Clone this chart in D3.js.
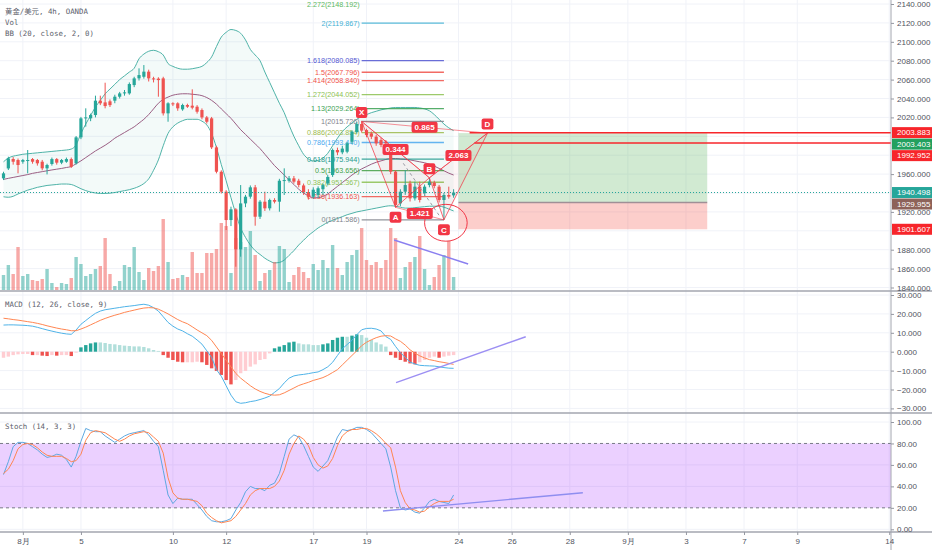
<!DOCTYPE html>
<html>
<head>
<meta charset="utf-8">
<script src="https://cdn.jsdelivr.net/npm/d3@7"></script>
<style>
body { margin: 0; background: #ffffff; }
text { font-family: "Liberation Sans", Arial, sans-serif; }
</style>
</head>
<body>
<div id="chart"></div>
<script>
// ---- candles (4h, index 0 = first visible bar) ----
var opens = [1955.5,1966,1976,1974.9,1973.1,1974.5,1975.9,1974.9,1973.1,1966.1,
1970.7,1975.9,1972.1,1973.1,1975.9,1971.4,1998.9,2019.4,2019,2022.5,
2037.7,2035.9,2037,2037.7,2041.9,2045.4,2045.4,2054.2,2061.3,2063,
2068.4,2061.3,2061,2061.3,2024.3,2034.9,2034.9,2028.5,2033.1,2032.4,
2031.3,2027.8,2020,2019,1988.3,1962.5,1941.4,1911.4,1922.7,1880.4,
1929,1936.1,1946,1914.9,1930.8,1923.8,1932.6,1930.8,1953.5,1953,
1955.5,1953,1948,1941,1936,1938,1944,1950,1959,1985.5,
1983,1983.7,1994.3,2004.5,2013,2006.6,2003.1,1999.6,1996,1994.3,
1990,1962.6,1929,1941.4,1950.2,1934.3,1946.7,1939.6,1948.4,1951,
1946.7,1932.6,1937.9,1937.5];
var highs = [1962.5,1978.4,1978,1976.5,1976,1985.5,1977,1976,1975,1971,
1977.5,1977,1976,1977.5,1977.5,2000.3,2020.5,2029.6,2024,2043,
2043,2056.7,2039,2044,2047,2049,2057,2063,2071.9,2075.4,
2070.5,2063,2062.5,2063,2036,2036,2036,2034.5,2034.5,2049.7,
2033,2029.5,2021.5,2020.5,1990,1964,1943,1925.5,1924,1948.4,
1938,1948,1948.5,1932.5,1941.4,1934,1934.5,1955,1966.1,1958,
1958,1955,1950,1944,1946,1947,1950,1959,1987,1988,
1990,1994,2006,2015,2015.726,2008,2005,2001.5,1998,1996,
1992,1964,1944,1964.3,1953,1952,1952,1949,1956.1,1953,
1948.5,1940,1946.7,1944];
var lows = [1953.7,1964.3,1970,1960.8,1971,1960.8,1971,1969,1964,1959.7,
1969,1970,1970.5,1972,1966.5,1970,1997,2010.2,2016,2020,
2033,2029.6,2031,2035,2040,2043,2044,2052,2059,2061,
2058,2057,2041.9,2022,2015.4,2032,2027,2027,2030,2028.5,
2024,2018,2013.5,1986.5,1960.8,1939.5,1900.8,1905,1862,1872.6,
1925,1934,1905.4,1912.5,1921,1921.5,1929,1920.2,1937.9,1951,
1950,1946,1938,1933,1934,1935,1938,1948,1957,1980,
1981,1982,1992,2003,2004,1999,1997,1990,1988.5,1990,
1960,1924.8,1926,1938,1931,1932,1930,1937,1946,1945,
1930,1911.586,1934,1935];
var closes = [1960.8,1976.7,1973.1,1969.6,1974.9,1974.9,1973.1,1971.4,1966.1,1969.6,
1975.9,1972.1,1974.9,1975.9,1967.8,1998.9,2019,2020,2022.5,2037.7,
2034.9,2032,2033,2041.9,2045.4,2046.5,2055.3,2061.3,2064.8,2068.4,
2061.3,2060.2,2059.5,2024.3,2034.9,2033.8,2029.6,2033.1,2031.3,2030.3,
2026,2020,2015.4,1988.3,1962.5,1941.4,1911.4,1922.7,1880.4,1929,
1936.1,1946,1914.9,1930.8,1923.8,1932.6,1930.8,1953,1953.7,1955.5,
1952,1948.5,1940.5,1936,1943.5,1945,1948.4,1957,1985.5,1983,
1987,1992.5,2004.9,2013,2006,2001.3,1999.6,1992.5,1990.8,1992.5,
1962.6,1927.3,1941.4,1948.4,1934.3,1946.7,1932.6,1946.7,1952,1947.4,
1932.6,1937.9,1936.1,1940.498];
var volumes = [15,25,16,43,14,16,10,9,11,21,
7,3,7,6,12,33,26,14,16,21,
24,52,16,4,9,25,23,43,18,10,
22,19,24,71,28,11,12,15,13,38,
17,17,37,37,41,67,64,17,52,48,
43,59,35,9,17,20,28,44,41,8,
15,23,18,12,26,20,30,22,45,22,
15,28,35,40,62,30,25,28,22,30,
62,52,12,23,28,33,54,21,5,13,
25,35,49,13];

// ---- Bollinger bands (20, 2) ----
var bbUpper = [1973,1977,1979,1980,1981,1981.5,1982,1982.5,1983,1983.5,
1984,1984.5,1985,1985.5,1986.5,1991,2003,2013,2022,2031,
2038,2045,2050,2055,2060,2064,2068,2072,2082,2087,
2090,2091,2089.5,2086,2077,2074,2072,2071,2071,2071.5,
2072.5,2074,2078,2084,2095,2105,2110,2113,2112,2109,
2102,2092,2086,2080,2068,2057,2046,2035,2025,2012,
2000,1990,1981,1976,1974,1974.5,1977,1982,1990,1998,
2005,2010,2014,2018,2021,2023,2025,2026.5,2028,2029,
2030,2030.5,2030.5,2030.5,2030.5,2030.5,2030,2029,2027,2023,
2018,2013,2009,2006];
var bbMid = [1954.4,1955.5,1956.5,1957.5,1958.5,1959.5,1960.8,1961.7,1962.6,1963.5,
1964.4,1965.2,1966,1967,1968,1971,1974,1977.5,1981,1984.5,
1987.5,1990.5,1994,1998,2001,2004,2007,2010,2014,2018,
2023,2029,2035,2039,2041.5,2043.5,2044.5,2045,2045,2044.5,
2044,2043,2041,2038,2034,2029,2024,2019,2013,2007,
2002,1997,1992,1987,1981,1975,1969,1964,1959,1954,
1949,1944,1940,1937,1935,1935,1936.5,1939,1943,1947,
1951,1955,1959,1962.5,1965.5,1968,1970.5,1972.5,1974,1975.5,
1976.5,1976.5,1976,1975.5,1975,1974,1973,1972,1970.5,1968.5,
1966,1963.5,1961,1959];
var bbLower = [1936,1935.5,1936.5,1939,1941,1943,1944.5,1946,1947,1948,
1948.5,1949,1949.5,1949.5,1949,1947,1944.5,1942.5,1941,1940,
1939.5,1939.5,1939.8,1940.5,1941.5,1942.5,1943.5,1945,1947,1950,
1955,1964,1975,1990,2003,2010,2014,2016.5,2018,2018,
2018,2016,2012,2003,1988,1970,1953,1935,1918,1903,
1893,1885,1879,1875,1871,1868,1866,1866.5,1869,1874,
1879,1885,1890,1895,1899,1903,1906,1909,1911,1913,
1915,1917,1918.5,1920,1921,1922,1923,1924,1925,1926,
1926.5,1926,1925,1924,1924,1924.5,1925,1925.5,1926,1926,
1926,1925,1923,1921];

// ---- MACD (12, 26, close, 9) ----
var macdLine = [14.1,14.2,14.2,14.1,14.0,13.8,13.5,12.9,12.2,11.5,
10.9,10.3,9.8,9.4,9.2,11.5,14.5,16.5,18.5,20.3,
21.5,22.2,22.6,23.0,23.4,23.8,24.1,24.4,24.8,25.1,
24.6,23.3,21.5,18.5,15.5,13.5,12.0,11.0,9.5,8.2,
6.2,4.0,0.5,-3.0,-9.5,-13.0,-18.0,-23.0,-26.5,-27.3,
-27.0,-26.4,-26.0,-25.3,-24.5,-23.5,-21.5,-19.5,-16.5,-14.0,
-12.8,-12.3,-12.0,-11.6,-11.1,-10.7,-9.5,-8.0,-5.6,-2.0,
1.5,3.8,6.0,9.0,11.6,12.3,12.4,12.0,11.0,8.0,
6.5,2.8,-0.5,-3.0,-5.5,-6.5,-7.2,-7.4,-7.5,-7.6,
-8.0,-8.4,-8.7,-8.8];
var signalLine = [17.7,17.4,17.0,16.7,16.3,15.9,15.5,15.0,14.4,13.7,
13.1,12.5,12.0,11.6,11.1,11.1,12.0,13.0,14.2,15.4,
16.6,17.6,18.5,19.3,20.0,20.8,21.4,22.0,22.6,23.1,
23.3,23.2,22.5,21.3,20.0,18.5,17.0,15.8,14.8,13.2,
11.5,10.0,8.5,6.0,2.5,-1.0,-4.5,-8.0,-11.5,-14.0,
-16.0,-18.0,-19.7,-21.0,-22.0,-22.7,-23.0,-22.8,-21.8,-20.5,
-19.2,-17.9,-17.0,-16.2,-15.2,-14.5,-13.7,-12.5,-11.0,-9.5,
-7.0,-4.5,-2.0,0.5,3.2,5.0,6.3,7.4,8.2,8.5,
8.3,6.8,5.5,3.5,1.0,-0.8,-2.2,-3.3,-4.2,-4.7,
-5.3,-5.7,-6.2,-6.7];
var macdHist = [-3.2,-2.6,-1.8,-1.4,-1.2,-1.2,-1.8,-1.8,-2.1,-2.3,
-1.8,-2.1,-1.8,-1.8,-2.3,-0.5,2.3,3.5,4.4,4.9,
4.9,4.6,4.1,3.9,3.5,3.2,3.0,2.8,2.8,2.5,
1.8,0.9,0.4,-1.8,-3.2,-4.4,-5.3,-5.6,-5.6,-5.6,
-5.3,-5.6,-7.0,-8.8,-10.2,-12.3,-15.0,-17.3,-15.0,-11.4,
-10.2,-7.9,-6.7,-4.4,-3.9,-0.9,1.8,2.7,3.5,4.9,
5.3,4.4,3.9,3.9,3.5,3.5,3.9,4.4,6.2,7.4,
7.9,7.9,8.5,9.2,8.8,7.4,6.2,4.9,3.9,2.7,
-1.8,-3.2,-4.4,-5.3,-6.2,-6.7,-5.6,-4.4,-3.2,-2.6,
-3.2,-2.6,-2.1,-1.8];

// ---- Stoch (14, 3, 3) ----
var stochK = [51,63,77,81,81,80,77,74,70,67,
68,70,69,65,58,68,82,94,92,91,
91,87,84,81,84,87,89,90,91,92,
88,82,77,55,32,24,29,28,28,28,
23,18,12,8,7,7,8,10,18,25,
35,40,38,38,36,41,43,52,68,84,
88,86,78,68,58,54,59,64,75,86,
93,92,93,95,95,93,90,85,80,75,
58,36,20,18,19,16,15,20,26,28,
26,25,24,32];
var stochD = [52,56,64,75,79,80,79,76,72,69,
68,68,68,66,63,64,70,83,90,92,
91,90,87,84,82,84,87,89,90,91,
90,86,82,71,48,34,29,28,28,27,
26,22,15,11,8,6,7,8,12,18,
24,32,36,38,38,38,40,45,55,70,
80,87,84,78,67,60,57,59,66,78,
87,91,93,93,94,94,92,89,85,80,
76,58,36,25,19,18,16,17,21,24,
26,26,26,28];

// ---- axes ----
var timeTickIdx = [4, 16, 35, 46, 64, 75, 94, 105, 117, 129, 141, 153, 164, 183];
var timeTickLabels = ["8月", "5", "10", "12", "17", "19", "24", "26", "28", "9月", "3", "7", "9", "14"];
var priceTicks = [2140, 2120, 2100, 2080, 2060, 2040, 2020, 1960, 1920, 1880, 1860, 1840];
var macdTicks = [30, 20, 10, 0, -10, -20, -30];
var stochTicks = [100, 80, 60, 40, 20, 0];

// ---- drawings ----
var fibRatios = ["0", "0.236", "0.382", "0.5", "0.618", "0.786", "0.886", "1", "1.13", "1.272", "1.414", "1.5", "1.618", "2", "2.272"];
var fibPrices = [1911.586, 1936.163, 1951.367, 1963.656, 1975.944, 1993.440, 2003.854, 2015.726, 2029.264, 2044.052, 2058.840, 2067.796, 2080.085, 2119.867, 2148.192];
var fibColors = ["#80838c", "#f0524a", "#8cc152", "#43a047", "#1f9a8e", "#4aa8ef", "#9cba4c", "#80838c", "#3aa152", "#8cc152", "#f0524a", "#f0524a", "#5256d2", "#3fb0d4", "#5cb860"];
var fibSpan = [74, 91];

var patternNames = ["X", "A", "B", "C", "D"];
var patternIdx = [74, 81, 88, 91, 100];
var patternPrices = [2015.726, 1924.8, 1956.1, 1911.586, 2003.4];
var patternRatios = [[0, 2, "0.344"], [1, 3, "1.421"], [2, 4, "2.063"], [0, 4, "0.865"]];

var positionSpan = [94, 145.4];
var positionPrices = [2003.403, 1929.955, 1901.607];
var rayStarts = [96.3, 97.3];
var rayPrices = [2003.883, 1992.952];
var lastPrice = 1940.498;
var tagPrices = [2003.883, 2003.403, 1992.952, 1940.498, 1929.955, 1901.607];
var tagColors = ["#f7262b", "#22a05f", "#f7262b", "#26a69a", "#8d6259", "#f7262b"];

var volTrend = [[80.7, 1890.3], [96, 1864.9]];
var macdTrend = [[81.1, -16.4], [107.9, 7.9]];
var stochTrend = [[78.4, 17.1], [119.7, 34.1]];
var guideDash = [[82.6, 1971.4], [90.2, 1914.9]];
var cCircle = [91.4, 1908.5, 4.4, 19.5];

var tv_chart = {
    width: 932,
    height: 550,
    axisX: 891,
    view: 0,
    initialize: function() {
        var self = this;
        self.x = d3.scaleLinear().domain([0, 183]).range([3.5, 3.5 + 183 * 4.84]);
        self.yPrice = d3.scaleLinear().domain([1840, 2140]).range([287.5, 4]);
        self.yVol = d3.scaleLinear().domain([0, 100]).range([290, 190]);
        self.yMacd = d3.scaleLinear().domain([-30, 30]).range([408.4, 295]);
        self.yStoch = d3.scaleLinear().domain([0, 100]).range([529.3, 422]);
        self.idx = closes.map(function(d, i) { return i; });

        self.view = d3.select("#chart").append("svg")
            .attr("width", self.width)
            .attr("height", self.height);
        var defs = self.view.append("defs");
        [["clipMain", 0, 291], ["clipMacd", 292, 121], ["clipStoch", 414, 118]].forEach(function(c) {
            defs.append("clipPath").attr("id", c[0]).append("rect")
                .attr("x", 0).attr("y", c[1]).attr("width", self.axisX).attr("height", c[2]);
        });

        self.drawGrid();
        self.drawMain();
        self.drawPattern();
        self.drawMacd();
        self.drawStoch();
        self.drawAxes();
        self.drawLegends();
    },

    drawGrid: function() {
        var self = this;
        var g = self.view.append("g").attr("stroke", "#f0f2f8").attr("stroke-width", 1);
        g.selectAll("line.v").data(timeTickIdx).enter().append("line")
            .attr("x1", function(d) { return self.x(d); })
            .attr("x2", function(d) { return self.x(d); })
            .attr("y1", 0).attr("y2", 532);
        g.selectAll("line.hp").data(self.yPrice.ticks(15)).enter().append("line")
            .attr("x1", 0).attr("x2", self.axisX)
            .attr("y1", function(d) { return self.yPrice(d); })
            .attr("y2", function(d) { return self.yPrice(d); });
        g.selectAll("line.hm").data(macdTicks).enter().append("line")
            .attr("x1", 0).attr("x2", self.axisX)
            .attr("y1", function(d) { return self.yMacd(d); })
            .attr("y2", function(d) { return self.yMacd(d); });
        g.selectAll("line.hs").data([100, 60, 40, 0]).enter().append("line")
            .attr("x1", 0).attr("x2", self.axisX)
            .attr("y1", function(d) { return self.yStoch(d); })
            .attr("y2", function(d) { return self.yStoch(d); });
    },

    drawMain: function() {
        var self = this;
        var x = self.x, y = self.yPrice;
        var g = self.view.append("g").attr("clip-path", "url(#clipMain)");

        // bollinger fill + lines
        g.append("path").datum(self.idx)
            .attr("d", d3.area().x(function(i) { return x(i); })
                .y0(function(i) { return y(bbLower[i]); })
                .y1(function(i) { return y(bbUpper[i]); })
                .curve(d3.curveMonotoneX))
            .attr("fill", "#26a69a").attr("opacity", 0.055);
        [[bbUpper, "#4fb3a8"], [bbLower, "#4fb3a8"], [bbMid, "#9b5f84"]].forEach(function(b) {
            g.append("path").datum(self.idx)
                .attr("d", d3.line().x(function(i) { return x(i); })
                    .y(function(i) { return y(b[0][i]); }).curve(d3.curveMonotoneX))
                .attr("fill", "none").attr("stroke", b[1]).attr("stroke-width", 1);
        });

        // volume
        g.append("g").selectAll("rect").data(self.idx).enter().append("rect")
            .attr("x", function(i) { return x(i) - 1.7; })
            .attr("width", 3.4)
            .attr("y", function(i) { return self.yVol(volumes[i]); })
            .attr("height", function(i) { return self.yVol(0) - self.yVol(volumes[i]); })
            .attr("fill", function(i) { return closes[i] >= opens[i] ? "#26a69a" : "#ef5350"; })
            .attr("opacity", 0.5);

        // position box
        var px0 = x(positionSpan[0]), px1 = x(positionSpan[1]);
        g.append("rect").attr("x", px0).attr("width", px1 - px0)
            .attr("y", y(positionPrices[0])).attr("height", y(positionPrices[1]) - y(positionPrices[0]))
            .attr("fill", "rgba(76,175,80,0.26)");
        g.append("rect").attr("x", px0).attr("width", px1 - px0)
            .attr("y", y(positionPrices[1])).attr("height", y(positionPrices[2]) - y(positionPrices[1]))
            .attr("fill", "rgba(244,67,54,0.26)");
        g.append("line").attr("x1", px0).attr("x2", px1)
            .attr("y1", y(positionPrices[1])).attr("y2", y(positionPrices[1]))
            .attr("stroke", "#a08f96").attr("stroke-width", 1.5);

        // fib levels
        var fx0 = x(fibSpan[0]), fx1 = x(fibSpan[1]);
        var fib = g.append("g");
        fib.selectAll("line").data(fibPrices).enter().append("line")
            .attr("x1", fx0).attr("x2", fx1)
            .attr("y1", function(d) { return y(d); })
            .attr("y2", function(d) { return y(d); })
            .attr("stroke", function(d, i) { return fibColors[i]; })
            .attr("stroke-width", 1.3).attr("opacity", 0.85);
        fib.selectAll("text").data(fibPrices).enter().append("text")
            .attr("x", fx0 - 2)
            .attr("y", function(d) { return Math.max(4, y(d)); })
            .attr("dy", "0.35em")
            .attr("text-anchor", "end")
            .attr("font-size", "7.2px")
            .attr("fill", function(d, i) { return fibColors[i]; })
            .text(function(d, i) { return fibRatios[i] + "(" + d.toFixed(3) + ")"; });

        // candles
        var cg = g.append("g");
        cg.selectAll("line").data(self.idx).enter().append("line")
            .attr("x1", function(i) { return x(i); })
            .attr("x2", function(i) { return x(i); })
            .attr("y1", function(i) { return y(highs[i]); })
            .attr("y2", function(i) { return y(lows[i]); })
            .attr("stroke", function(i) { return closes[i] >= opens[i] ? "#26a69a" : "#ef5350"; });
        cg.selectAll("rect").data(self.idx).enter().append("rect")
            .attr("x", function(i) { return x(i) - 1.6; })
            .attr("width", 3.2)
            .attr("y", function(i) { return y(Math.max(opens[i], closes[i])); })
            .attr("height", function(i) { return Math.max(1, Math.abs(y(opens[i]) - y(closes[i]))); })
            .attr("fill", function(i) { return closes[i] >= opens[i] ? "#26a69a" : "#ef5350"; });

        // last price dotted line
        g.append("line").attr("x1", 0).attr("x2", self.axisX)
            .attr("y1", y(lastPrice)).attr("y2", y(lastPrice))
            .attr("stroke", "#26a69a").attr("stroke-dasharray", "1,2");

        // horizontal rays
        g.selectAll("line.ray").data(rayPrices).enter().append("line")
            .attr("x1", function(d, i) { return x(rayStarts[i]); })
            .attr("x2", self.axisX)
            .attr("y1", function(d) { return y(d); })
            .attr("y2", function(d) { return y(d); })
            .attr("stroke", "#f7262b").attr("stroke-width", 1.5);

        // volume trend line
        g.append("line")
            .attr("x1", x(volTrend[0][0])).attr("y1", y(volTrend[0][1]))
            .attr("x2", x(volTrend[1][0])).attr("y2", y(volTrend[1][1]))
            .attr("stroke", "#8a7ff0").attr("stroke-width", 1.4);
    },

    drawPattern: function() {
        var self = this;
        var x = self.x, y = self.yPrice;
        var g = self.view.append("g").attr("clip-path", "url(#clipMain)");
        var pt = function(k) { return [x(patternIdx[k]), y(patternPrices[k])]; };

        [[0, 1, 2], [2, 3, 4]].forEach(function(t) {
            g.append("path")
                .attr("d", d3.line()(t.map(pt)) + "Z")
                .attr("fill", "rgba(242,54,69,0.05)")
                .attr("stroke", "#f23645").attr("stroke-opacity", 0.75).attr("stroke-width", 1);
        });
        patternRatios.forEach(function(r) {
            var a = pt(r[0]), b = pt(r[1]);
            g.append("line").attr("x1", a[0]).attr("y1", a[1]).attr("x2", b[0]).attr("y2", b[1])
                .attr("stroke", "#f23645").attr("stroke-opacity", 0.55).attr("stroke-width", 1);
        });
        g.append("line")
            .attr("x1", x(guideDash[0][0])).attr("y1", y(guideDash[0][1]))
            .attr("x2", x(guideDash[1][0])).attr("y2", y(guideDash[1][1]))
            .attr("stroke", "#9a9ca5").attr("stroke-dasharray", "3,3");

        // circle around C
        g.append("ellipse")
            .attr("cx", x(cCircle[0])).attr("cy", y(cCircle[1]))
            .attr("rx", x(cCircle[0] + cCircle[2]) - x(cCircle[0]))
            .attr("ry", y(cCircle[1] - cCircle[3]) - y(cCircle[1]))
            .attr("fill", "none").attr("stroke", "#f23645").attr("stroke-width", 1);

        var tag = function(cx, cy, txt, minW) {
            var t = g.append("g");
            var label = t.append("text").attr("x", cx).attr("y", cy).attr("dy", "0.35em")
                .attr("text-anchor", "middle").attr("font-size", "8px").attr("font-weight", "bold")
                .attr("fill", "#ffffff").text(txt);
            var w = Math.max(minW, label.node().getComputedTextLength() + 6);
            t.insert("rect", "text").attr("x", cx - w / 2).attr("y", cy - 5.5)
                .attr("width", w).attr("height", 11).attr("rx", 2)
                .attr("fill", "#f23645");
        };
        patternRatios.forEach(function(r) {
            var a = pt(r[0]), b = pt(r[1]);
            tag((a[0] + b[0]) / 2, (a[1] + b[1]) / 2, r[2], 0);
        });
        patternNames.forEach(function(n, k) {
            var p = pt(k);
            var below = (n === "A" || n === "C");
            tag(p[0], p[1] + (below ? 10 : -9), n, 11);
        });
    },

    drawMacd: function() {
        var self = this;
        var x = self.x, y = self.yMacd;
        var g = self.view.append("g").attr("clip-path", "url(#clipMacd)");
        g.selectAll("rect").data(self.idx).enter().append("rect")
            .attr("x", function(i) { return x(i) - 1.7; })
            .attr("width", 3.4)
            .attr("y", function(i) { return y(Math.max(0, macdHist[i])); })
            .attr("height", function(i) { return Math.abs(y(macdHist[i]) - y(0)); })
            .attr("fill", function(i) {
                var h = macdHist[i], prev = i > 0 ? macdHist[i - 1] : h;
                if (h >= 0) return h > prev ? "#26a69a" : "#b2dfdb";
                return h < prev ? "#ef5350" : "#ffcdd2";
            });
        [[macdLine, "#4fb3e8"], [signalLine, "#ff8652"]].forEach(function(s) {
            g.append("path").datum(self.idx)
                .attr("d", d3.line().x(function(i) { return x(i); })
                    .y(function(i) { return y(s[0][i]); }))
                .attr("fill", "none").attr("stroke", s[1]).attr("stroke-width", 1);
        });
        g.append("line")
            .attr("x1", x(macdTrend[0][0])).attr("y1", y(macdTrend[0][1]))
            .attr("x2", x(macdTrend[1][0])).attr("y2", y(macdTrend[1][1]))
            .attr("stroke", "#9c8ff3").attr("stroke-width", 1.4);
    },

    drawStoch: function() {
        var self = this;
        var x = self.x, y = self.yStoch;
        var g = self.view.append("g").attr("clip-path", "url(#clipStoch)");
        g.append("rect").attr("x", 0).attr("width", self.axisX)
            .attr("y", y(80)).attr("height", y(20) - y(80))
            .attr("fill", "rgba(153,21,255,0.2)");
        g.selectAll("line.band").data([80, 20]).enter().append("line")
            .attr("x1", 0).attr("x2", self.axisX)
            .attr("y1", function(d) { return y(d); })
            .attr("y2", function(d) { return y(d); })
            .attr("stroke", "#787b86").attr("stroke-dasharray", "3,3");
        [[stochK, "#5ea8e0"], [stochD, "#ff8652"]].forEach(function(s) {
            g.append("path").datum(self.idx)
                .attr("d", d3.line().x(function(i) { return x(i); })
                    .y(function(i) { return y(s[0][i]); }))
                .attr("fill", "none").attr("stroke", s[1]).attr("stroke-width", 1);
        });
        g.append("line")
            .attr("x1", x(stochTrend[0][0])).attr("y1", y(stochTrend[0][1]))
            .attr("x2", x(stochTrend[1][0])).attr("y2", y(stochTrend[1][1]))
            .attr("stroke", "#8f8ef0").attr("stroke-width", 1.4);
    },

    drawAxes: function() {
        var self = this;
        var sep = self.view.append("g").attr("stroke", "#a3a6af");
        [291, 413, 532].forEach(function(v) {
            sep.append("line").attr("x1", 0).attr("x2", self.width)
                .attr("y1", v).attr("y2", v).attr("stroke-width", 1.5);
        });
        sep.append("line").attr("x1", self.axisX).attr("x2", self.axisX)
            .attr("y1", 0).attr("y2", self.height).attr("stroke-width", 1);

        var style = function(g) {
            g.select(".domain").remove();
            g.selectAll(".tick line").attr("stroke", "#9598a1");
            g.selectAll(".tick text").attr("fill", "#50535e")
                .style("font-size", "8px").style("font-family", "'Liberation Sans', Arial, sans-serif");
        };
        self.view.append("g").attr("transform", "translate(" + self.axisX + ",0)")
            .call(d3.axisRight(self.yPrice).tickValues(priceTicks).tickSize(3).tickPadding(3)
                .tickFormat(d3.format(".3f")))
            .call(style);
        self.view.append("g").attr("transform", "translate(" + self.axisX + ",0)")
            .call(d3.axisRight(self.yMacd).tickValues(macdTicks).tickSize(3).tickPadding(3)
                .tickFormat(d3.format(".3f")))
            .call(style);
        self.view.append("g").attr("transform", "translate(" + self.axisX + ",0)")
            .call(d3.axisRight(self.yStoch).tickValues(stochTicks).tickSize(3).tickPadding(3)
                .tickFormat(d3.format(".2f")))
            .call(style);
        self.view.append("g").attr("transform", "translate(0,532)")
            .call(d3.axisBottom(self.x).tickValues(timeTickIdx).tickSize(3).tickPadding(3)
                .tickFormat(function(d, i) { return timeTickLabels[i]; }))
            .call(style);

        // coloured price tags, pushed apart like the platform does
        var tags = tagPrices.map(function(p, i) { return { p: p, c: tagColors[i], y: self.yPrice(p) }; })
            .sort(function(a, b) { return a.y - b.y; });
        for (var k = 1; k < tags.length; k++) {
            if (tags[k].y - tags[k - 1].y < 11.5) tags[k].y = tags[k - 1].y + 11.5;
        }
        var tg = self.view.append("g").selectAll("g").data(tags).enter().append("g");
        tg.append("rect").attr("x", self.axisX + 1).attr("width", self.width - self.axisX - 1)
            .attr("y", function(d) { return d.y - 5.5; }).attr("height", 11)
            .attr("fill", function(d) { return d.c; });
        tg.append("text").attr("x", self.axisX + 6).attr("y", function(d) { return d.y; })
            .attr("dy", "0.35em").attr("font-size", "8px").attr("fill", "#ffffff")
            .text(function(d) { return d.p.toFixed(3); });
    },

    drawLegends: function() {
        var self = this;
        var mono = "'DejaVu Sans Mono', 'Noto Sans CJK SC', monospace";
        var rows = [["黄金/美元, 4h, OANDA", 11], ["Vol", 22], ["BB (20, close, 2, 0)", 33],
                    ["MACD (12, 26, close, 9)", 304], ["Stoch (14, 3, 3)", 426]];
        self.view.append("g").selectAll("text").data(rows).enter().append("text")
            .attr("x", 5)
            .attr("y", function(d) { return d[1]; })
            .attr("dy", "0.35em")
            .style("font-family", mono)
            .attr("font-size", "7.4px")
            .attr("fill", "#5d606b")
            .text(function(d) { return d[0]; });
    }
};

tv_chart.initialize();
</script>
</body>
</html>
